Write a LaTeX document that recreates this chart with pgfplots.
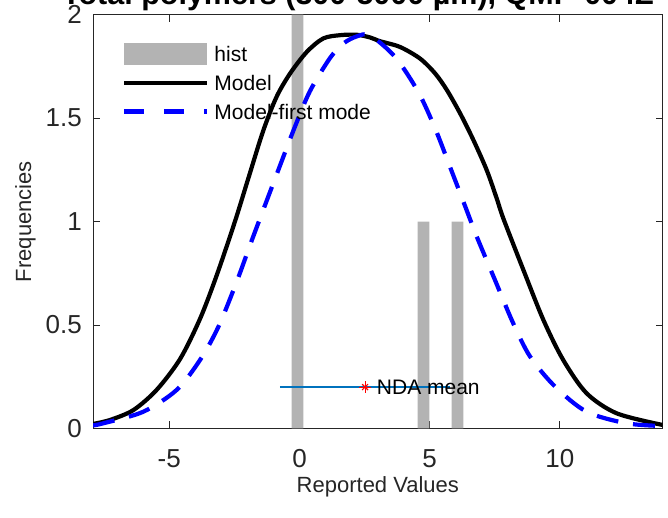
\documentclass[border=0pt]{standalone}
\usepackage{fontspec}
\setmainfont{Liberation Sans}
\usepackage{pgfplots}
\pgfplotsset{compat=1.18}
\definecolor{histgray}{RGB}{179,179,179}
\definecolor{axgray}{RGB}{38,38,38}
\definecolor{ndablue}{RGB}{0,114,189}
\definecolor{mblue}{RGB}{0,0,255}
\begin{document}
\begin{tikzpicture}
\begin{axis}[
  at={(93pt,89.5pt)}, anchor=south west,
  scale only axis, width=569.7pt, height=413.8pt,
  xmin=-7.93, xmax=13.95, ymin=0, ymax=2,
  xtick={-5,0,5,10}, xticklabels={-5,0,5,10},
  ytick={0,0.5,1,1.5,2}, yticklabels={0,0.5,1,1.5,2},
  tick align=inside, major tick length=7pt,
  every tick/.style={axgray, line width=0.8pt},
  axis line style={axgray, line width=0.8pt},
  xticklabel style={font=\fontsize{26}{28}\selectfont, text=axgray, anchor=north, inner sep=0pt, yshift=-20.5pt},
  yticklabel style={font=\fontsize{26}{28}\selectfont, text=axgray, anchor=east, inner sep=0pt, xshift=-11pt},
  xlabel={Reported Values},
  xlabel style={at={(axis description cs:0.5,-0.1535)}, anchor=base, inner sep=0pt, font=\fontsize{22}{24}\selectfont, text=axgray},
  ylabel={Frequencies},
  ylabel style={at={(axis description cs:-0.1088,0.5)}, anchor=base, inner sep=0pt, font=\fontsize{22}{24}\selectfont, text=axgray},
  title={Total polymers (300-5000 µm), QMP-004Z},
  title style={at={(axis description cs:-0.0544,1.0101)}, anchor=base west, inner sep=0pt, font=\bfseries\fontsize{30.5}{34}\selectfont},
  legend cell align=left,
  legend style={at={(0.0514,0.9323)}, anchor=north west, draw=none, fill=none,
    inner sep=0pt, outer sep=0pt, row sep=6.9pt, column sep=5pt,
    nodes={inner sep=0pt, text height=15pt, text depth=0pt, font=\fontsize{21}{24}\selectfont, text=black}},
]

% histogram bars
\addplot[ybar, bar width=0.45, fill=histgray, draw=none,
  legend image code/.code={\fill[histgray] (0pt,-11pt) rectangle (83pt,11pt);}]
  coordinates {(-0.08,2) (4.76,1) (6.07,1)};
\addlegendentry{hist}

% full model
\addplot[black, line width=4.2pt, smooth,
  legend image code/.code={\path[draw=none, fill=none] (0pt,-11pt) rectangle (83pt,11pt); \draw[black, line width=4.2pt, solid] (0pt,0pt) -- (83pt,0pt);}]
  coordinates {
    (-7.93,0.022) (-7.28,0.041) (-6.38,0.089) (-5.49,0.186) (-4.59,0.335)
    (-3.82,0.530) (-3.18,0.740) (-2.48,1.000) (-1.95,1.215) (-1.39,1.440)
    (-0.88,1.603) (-0.36,1.716) (0.28,1.820) (0.91,1.885) (1.56,1.901)
    (2.20,1.903) (2.71,1.890) (3.09,1.872) (3.86,1.844) (4.63,1.788)
    (5.21,1.716) (5.66,1.636) (6.17,1.523) (6.68,1.394) (7.19,1.249)
    (7.58,1.110) (7.83,1.015) (8.60,0.766) (9.37,0.524) (10.13,0.331)
    (11.03,0.170) (12.19,0.073) (13.95,0.017)
  };
\addlegendentry{Model}

% first mode
\addplot[mblue, line width=4.2pt, smooth, dash pattern=on 22pt off 15pt,
  legend image code/.code={\path[draw=none, fill=none] (0pt,-11pt) rectangle (83pt,11pt); \draw[mblue, line width=4.2pt, dash pattern=on 20pt off 20pt] (0pt,0pt) -- (83pt,0pt);}]
  coordinates {
    (-7.93,0.015) (-7.54,0.025) (-6.00,0.081) (-4.72,0.186) (-3.82,0.331)
    (-3.12,0.490) (-2.41,0.710) (-1.77,0.930) (-0.75,1.270) (-0.17,1.460)
    (0.40,1.630) (1.17,1.790) (1.70,1.862) (2.20,1.895) (2.71,1.900)
    (3.67,1.796) (4.56,1.627) (5.21,1.450) (5.78,1.265) (6.36,1.075)
    (6.81,0.927) (7.51,0.717) (8.21,0.508) (8.86,0.347) (9.82,0.202)
    (11.03,0.081) (12.57,0.025) (13.95,0.012)
  };
\addlegendentry{Model-first mode}

% NDA mean
\addplot[draw=ndablue, line width=1.3pt, forget plot] coordinates {(-0.75,0.2) (5.79,0.2)};
\addplot[draw=red, only marks, mark=+, mark size=6pt, mark options={line width=1.1pt, draw=red}, forget plot] coordinates {(2.52,0.2)};
\addplot[draw=red, only marks, mark=x, mark size=4.2pt, mark options={line width=1.1pt, draw=red}, forget plot] coordinates {(2.52,0.2)};
\node[anchor=west, inner sep=0pt, xshift=11.7pt, font=\fontsize{21}{24}\selectfont] at (axis cs:2.52,0.2) {NDA mean};

\node[anchor=base west, inner sep=0pt, text=axgray, font=\fontsize{26}{28}\selectfont] at (rel axis cs:0.8952,-0.2035) {×10\textsuperscript{4}};
\end{axis}
\pgfresetboundingbox
\useasboundingbox (0pt,0pt) rectangle (668pt,518pt);
\end{tikzpicture}
\end{document}
